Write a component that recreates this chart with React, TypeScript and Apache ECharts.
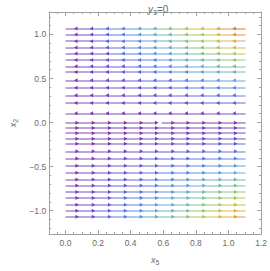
import React, { useEffect, useRef } from "react";
import * as echarts from "echarts";

// Streamline heights (x2) — flow to the left above, to the right below
const topLinesY = [1.068, 1.0, 0.924, 0.851, 0.783, 0.71, 0.639, 0.574, 0.479, 0.396, 0.309, 0.222, 0.105];
const bottomLinesY = [-0.003, -0.062, -0.121, -0.183, -0.24, -0.327, -0.407, -0.49, -0.57, -0.646, -0.715, -0.787, -0.856, -0.932, -1.0, -1.069];
// Arrowhead positions along x5
const topArrowX = [0.063, 0.159, 0.256, 0.353, 0.453, 0.547, 0.64, 0.74, 0.837, 0.935, 1.034];
const bottomArrowX = [0.072, 0.172, 0.271, 0.369, 0.466, 0.56, 0.66, 0.753, 0.85, 0.95, 1.044];
// Streamline extent along x5
const lineStartX = 0;
const lineEndX = 1.105;
// Break in the streamline closest to x2 = 0
const breakFromX = 0.56;
const breakToX = 0.59;

const xTicks = [0, 0.2, 0.4, 0.6, 0.8, 1.0, 1.2];
const yTicks = [-1.0, -0.5, 0, 0.5, 1.0];

const stops: [number, number[]][] = [
  [0.0, [122, 46, 160]],
  [0.14, [96, 70, 205]],
  [0.3, [78, 118, 225]],
  [0.45, [95, 168, 200]],
  [0.58, [120, 190, 130]],
  [0.7, [175, 195, 70]],
  [0.8, [218, 178, 50]],
  [0.9, [230, 135, 50]],
  [1.0, [225, 75, 45]],
];

function colorAt(t: number): string {
  const v = Math.max(0, Math.min(1, t));
  for (let i = 1; i < stops.length; i++) {
    if (v <= stops[i][0]) {
      const [t0, c0] = stops[i - 1];
      const [t1, c1] = stops[i];
      const f = (v - t0) / (t1 - t0);
      const c = c0.map((a, k) => Math.round(a + (c1[k] - a) * f));
      return `rgb(${c[0]},${c[1]},${c[2]})`;
    }
  }
  const c = stops[stops.length - 1][1];
  return `rgb(${c[0]},${c[1]},${c[2]})`;
}

function speed(x: number, y: number): number {
  const k = y > 0 ? 1.0 : 0.9;
  return (Math.abs(x * y) * k) / 1.18;
}

type Piece = { y: number; x0: number; x1: number; arrows: number[]; dir: number };

function buildPieces(): Piece[] {
  const pieces: Piece[] = [];
  topLinesY.forEach((y) => {
    pieces.push({ y, x0: lineStartX, x1: lineEndX, arrows: topArrowX, dir: -1 });
  });
  bottomLinesY.forEach((y, i) => {
    if (i === 0) {
      pieces.push({ y, x0: lineStartX, x1: breakFromX, arrows: bottomArrowX.filter((a) => a <= breakFromX), dir: 1 });
      pieces.push({ y, x0: breakToX, x1: lineEndX, arrows: bottomArrowX.filter((a) => a > breakToX), dir: 1 });
    } else {
      pieces.push({ y, x0: lineStartX, x1: lineEndX, arrows: bottomArrowX, dir: 1 });
    }
  });
  return pieces;
}

export default function App() {
  const ref = useRef<HTMLDivElement>(null);
  useEffect(() => {
    if (!ref.current) return;
    document.body.style.margin = "0";
    const chart = echarts.init(ref.current, undefined, { renderer: "svg" });
    const pieces = buildPieces();
    const segData: any[] = [];
    const arrowData: any[] = [];
    pieces.forEach((p) => {
      const bps = [p.x0, ...p.arrows.filter((a) => a > p.x0 && a < p.x1), p.x1];
      for (let i = 0; i < bps.length - 1; i++) {
        const a = bps[i];
        const b = bps[i + 1];
        if (b - a < 0.004) continue;
        const mid = (a + b) / 2;
        segData.push({
          coords: [
            [a, p.y],
            [b, p.y],
          ],
          lineStyle: { color: colorAt(speed(mid, p.y)) },
        });
      }
      p.arrows.forEach((a) => {
        arrowData.push({
          value: [a, p.y],
          symbolRotate: p.dir < 0 ? 90 : -90,
          itemStyle: { color: colorAt(speed(a, p.y)) },
        });
      });
    });

    const gray = "#a0a0a0";
    const labelColor = "#6a6a6a";
    const font = "Liberation Sans, Arial, sans-serif";

    const xBase = {
      type: "value",
      min: -0.1,
      max: 1.2,
      splitNumber: 6,
      minInterval: 0.2,
      maxInterval: 0.2,
      axisLine: { show: true, onZero: false, lineStyle: { color: gray, width: 1 } },
      axisTick: { show: true, inside: true, length: 4, lineStyle: { color: gray } },
      minorTick: { show: true, splitNumber: 4, length: 2, lineStyle: { color: gray } },
      splitLine: { show: false },
    };
    const yBase = {
      type: "value",
      min: -1.265,
      max: 1.255,
      splitNumber: 5,
      minInterval: 0.5,
      maxInterval: 0.5,
      axisLine: { show: true, onZero: false, lineStyle: { color: gray, width: 1 } },
      axisTick: { show: true, inside: true, length: 4, lineStyle: { color: gray } },
      minorTick: { show: true, splitNumber: 5, length: 2, lineStyle: { color: gray } },
      splitLine: { show: false },
    };

    chart.setOption({
      animation: false,
      backgroundColor: "#ffffff",
      title: {
        text: "{i|y}{s|3}{n|=0}",
        left: 143,
        top: -2,
        textStyle: {
          fontWeight: "normal",
          rich: {
            i: { fontSize: 10, fontStyle: "italic", fontWeight: "normal", color: labelColor, fontFamily: font },
            s: { fontSize: 7, fontWeight: "normal", color: labelColor, fontFamily: font, padding: [6, 0, 0, 0] },
            n: { fontSize: 10, fontWeight: "normal", color: labelColor, fontFamily: font },
          },
        },
      },
      grid: { left: 32, right: 7, top: 12, bottom: 27 },
      xAxis: [
        {
          ...xBase,
          position: "bottom",
          name: "{i|x}{s|5}",
          nameLocation: "middle",
          nameGap: 20,
          nameTextStyle: {
            rich: {
              i: { fontSize: 9, fontStyle: "italic", color: labelColor, fontFamily: font },
              s: { fontSize: 7, color: labelColor, fontFamily: font, padding: [5, 0, 0, 0] },
            },
          },
          axisLabel: {
            show: true,
            showMinLabel: false,
            color: labelColor,
            fontSize: 8.5,
            fontFamily: font,
            margin: 4,
            formatter: (v: number) => {
              const t = xTicks.find((k) => Math.abs(k - v) < 1e-6);
              return t === undefined ? "" : t.toFixed(1);
            },
          },
        },
        { ...xBase, position: "top", axisLabel: { show: false } },
      ],
      yAxis: [
        {
          ...yBase,
          position: "left",
          name: "{i|x}{s|2}",
          nameLocation: "middle",
          nameGap: 21,
          nameTextStyle: {
            rich: {
              i: { fontSize: 9, fontStyle: "italic", color: labelColor, fontFamily: font },
              s: { fontSize: 7, color: labelColor, fontFamily: font, padding: [5, 0, 0, 0] },
            },
          },
          axisLabel: {
            show: true,
            showMinLabel: false,
            showMaxLabel: false,
            color: labelColor,
            fontSize: 8.5,
            fontFamily: font,
            margin: 3,
            formatter: (v: number) => {
              const t = yTicks.find((k) => Math.abs(k - v) < 1e-6);
              if (t === undefined) return "";
              return t < 0 ? "\u2212" + Math.abs(t).toFixed(1) : t.toFixed(1);
            },
          },
        },
        { ...yBase, position: "right", axisLabel: { show: false } },
      ],
      series: [
        {
          type: "lines",
          coordinateSystem: "cartesian2d",
          xAxisIndex: 0,
          yAxisIndex: 0,
          polyline: false,
          silent: true,
          lineStyle: { width: 2, opacity: 0.45 },
          data: segData,
        },
        {
          type: "scatter",
          xAxisIndex: 0,
          yAxisIndex: 0,
          symbol: "triangle",
          symbolSize: [4, 3.5],
          silent: true,
          itemStyle: { opacity: 0.95 },
          data: arrowData,
        },
      ],
    });
    return () => chart.dispose();
  }, []);
  return <div ref={ref} style={{ position: "fixed", left: 0, top: 0, width: 270, height: 271 }} />;
}
